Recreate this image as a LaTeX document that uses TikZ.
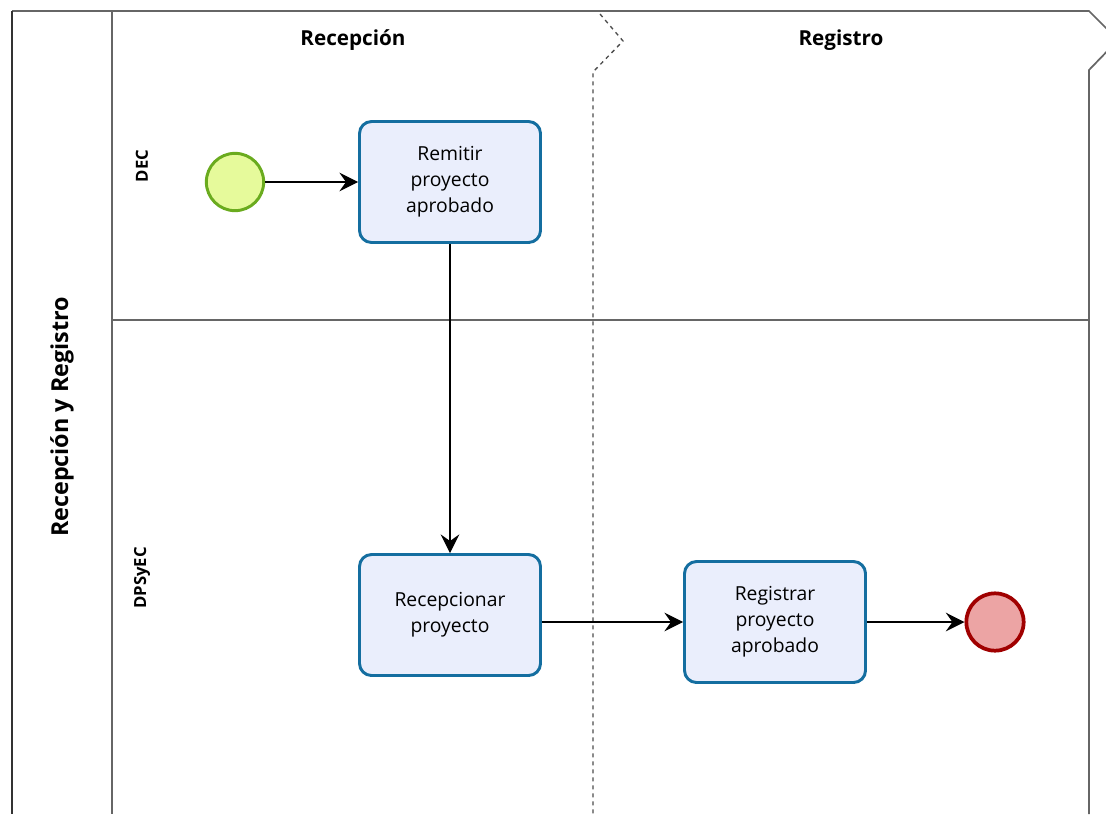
\documentclass[tikz,border=0pt]{standalone}
\usepackage{fontspec}
\setmainfont{Open Sans}
\usetikzlibrary{arrows.meta}

\definecolor{taskline}{RGB}{20,110,160}
\definecolor{taskfill}{RGB}{234,238,252}
\definecolor{startline}{RGB}{106,171,30}
\definecolor{startfill}{RGB}{230,250,155}
\definecolor{endline}{RGB}{160,0,0}
\definecolor{endfill}{RGB}{236,164,164}

\begin{document}
\begin{tikzpicture}[x=0.75pt, y=-0.75pt,
        task/.style={draw=taskline, line width=2.2pt, fill=taskfill, rounded corners=9pt,
                minimum width=135.75pt, minimum height=90.75pt, text width=125pt, align=center,
                font=\fontsize{14.5}{19.5}\selectfont},
        startev/.style={circle, draw=startline, line width=2.2pt, fill=startfill, minimum size=43pt},
        endev/.style={circle, draw=endline, line width=2.8pt, fill=endfill, minimum size=43pt},
        flow/.style={-{Stealth[length=14pt, width=14pt, inset=5pt]}, line width=0.9pt},
        lane/.style={draw=black!60, line width=1.3pt},
        hdr/.style={font=\bfseries\fontsize{15.5}{18}\selectfont}]
                        \useasboundingbox (0, 0) rectangle (1106, 814);
                        \clip (0, 0) rectangle (1106, 814);
                        \fill[white] (0, 0) rectangle (1106, 814);

                        % pool and lanes
                        \draw[lane] (1089, 814) -- (1089, 70) -- (1118, 40) -- (1089, 11) -- (12, 11);
                        \draw[draw=black!80, line width=1.5pt] (12, 11) -- (12, 814);
                        \draw[lane] (112, 11) -- (112, 814);
                        \draw[lane] (112, 320) -- (1089, 320);
                        \draw[draw=black!70, line width=1pt, dashed] (600, 14) -- (623, 41) -- (593, 72) -- (593, 814);

                        \node[hdr] (recepcion) at (353, 40) {Recepción};
                        \node[hdr] (registro) at (841, 40) {Registro};
                        \node[rotate=90, font=\bfseries\fontsize{17.5}{20}\selectfont] (pool) at (62, 417) {Recepción y Registro};
                        \node[rotate=90, font=\bfseries\fontsize{12.5}{15}\selectfont] (dec) at (142, 166) {DEC};
                        \node[rotate=90, font=\bfseries\fontsize{12.5}{15}\selectfont] (dpsyec) at (142, 578) {DPSyEC};

                        % events and tasks
                        \node[startev] (inicio) at (235, 182) {};
                        \node[task] (remitir) at (450, 182) {Remitir\\proyecto\\aprobado};
                        \node[task] (recepcionar) at (450, 615) {Recepcionar\\proyecto};
                        \node[task] (registrar) at (775, 622) {Registrar\\proyecto\\aprobado};
                        \node[endev] (fin) at (995, 622) {};

                        % flows
                        \draw[flow] (inicio) -- (remitir);
                        \draw[flow] (remitir) -- (recepcionar);
                        \draw[flow] (recepcionar.east |- registrar.west) -- (registrar.west);
                        \draw[flow] (registrar) -- (fin);
\end{tikzpicture}
\end{document}
